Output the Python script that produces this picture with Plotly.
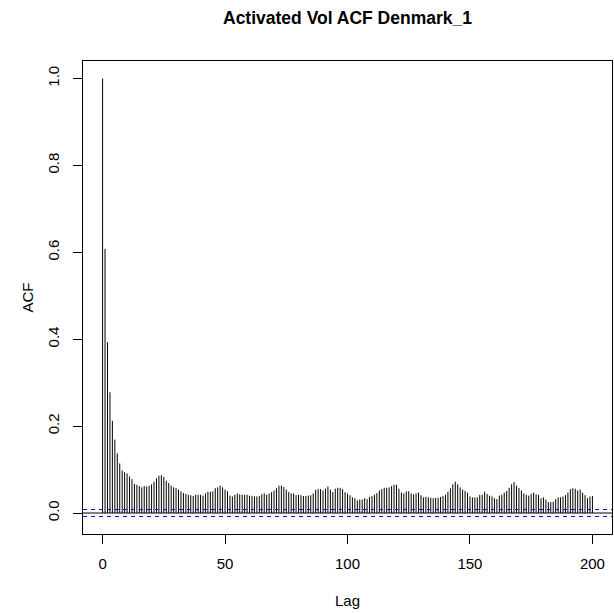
import plotly.graph_objects as go

TITLE = "Activated Vol ACF Denmark_1"
LAGS = list(range(0, 201))
ACF = [
    1.000, 0.608, 0.393, 0.278, 0.212, 0.169, 0.137, 0.114, 0.098, 0.094,
    0.091, 0.084, 0.078, 0.067, 0.065, 0.062, 0.059, 0.062, 0.061, 0.063,
    0.066, 0.072, 0.080, 0.086, 0.087, 0.083, 0.074, 0.069, 0.063, 0.059,
    0.057, 0.054, 0.050, 0.046, 0.044, 0.042, 0.041, 0.039, 0.042, 0.042,
    0.042, 0.040, 0.045, 0.049, 0.049, 0.050, 0.057, 0.059, 0.063, 0.059,
    0.054, 0.050, 0.040, 0.038, 0.042, 0.045, 0.043, 0.042, 0.042, 0.042,
    0.040, 0.039, 0.038, 0.038, 0.039, 0.043, 0.045, 0.042, 0.045, 0.048,
    0.052, 0.057, 0.063, 0.063, 0.060, 0.054, 0.048, 0.045, 0.045, 0.041,
    0.042, 0.041, 0.039, 0.039, 0.040, 0.041, 0.045, 0.053, 0.055, 0.055,
    0.052, 0.056, 0.061, 0.054, 0.048, 0.056, 0.058, 0.058, 0.055, 0.048,
    0.045, 0.041, 0.036, 0.034, 0.029, 0.031, 0.031, 0.034, 0.032, 0.037,
    0.039, 0.042, 0.046, 0.052, 0.055, 0.058, 0.058, 0.059, 0.062, 0.065,
    0.065, 0.056, 0.047, 0.045, 0.050, 0.050, 0.045, 0.043, 0.045, 0.047,
    0.041, 0.036, 0.037, 0.036, 0.035, 0.034, 0.035, 0.035, 0.037, 0.039,
    0.042, 0.049, 0.057, 0.066, 0.072, 0.066, 0.059, 0.054, 0.051, 0.047,
    0.038, 0.036, 0.036, 0.036, 0.042, 0.042, 0.049, 0.044, 0.040, 0.038,
    0.034, 0.032, 0.040, 0.042, 0.047, 0.051, 0.058, 0.066, 0.071, 0.063,
    0.058, 0.052, 0.045, 0.042, 0.040, 0.044, 0.047, 0.043, 0.042, 0.034,
    0.036, 0.031, 0.025, 0.025, 0.026, 0.032, 0.036, 0.036, 0.038, 0.041,
    0.047, 0.055, 0.057, 0.056, 0.052, 0.054, 0.047, 0.041, 0.034, 0.038,
    0.039,
]
CLIM = 0.008
X_TICKS = [0, 50, 100, 150, 200]
Y_TICKS = [0.0, 0.2, 0.4, 0.6, 0.8, 1.0]
Y_TICK_LABELS = ["0.0", "0.2", "0.4", "0.6", "0.8", "1.0"]

xs, ys = [], []
for k, v in zip(LAGS, ACF):
    xs += [k, k, None]
    ys += [0, v, None]

# R-style 4% axis extension
x_lo, x_hi = min(LAGS), max(LAGS)
xpad = 0.04 * (x_hi - x_lo)
y_lo, y_hi = -CLIM, max(ACF)
ypad = 0.04 * (y_hi - y_lo)

FONT = "Liberation Sans, Arial, Helvetica, sans-serif"
FS = 15

fig = go.Figure()
fig.add_trace(go.Scatter(x=xs, y=ys, mode="lines",
                         line=dict(color="black", width=1),
                         hoverinfo="skip", showlegend=False))

fig.add_shape(type="line", xref="paper", x0=0, x1=1, yref="y", y0=0, y1=0,
              line=dict(color="black", width=1))
for c in (CLIM, -CLIM):
    fig.add_shape(type="line", xref="paper", x0=0, x1=1, yref="y", y0=c, y1=c,
                  line=dict(color="#0000FF", width=1, dash="4px,4px"))

fig.update_layout(
    width=614, height=613,
    margin=dict(l=83, r=2, t=61, b=79),
    paper_bgcolor="white", plot_bgcolor="white",
    font=dict(family=FONT, size=FS, color="black"),
    showlegend=False,
    xaxis=dict(range=[x_lo - xpad, x_hi + xpad], tickmode="array",
               tickvals=X_TICKS, ticktext=[str(t) for t in X_TICKS],
               ticks="outside", ticklen=9, tickcolor="black", tickwidth=1,
               showline=True, linecolor="black", linewidth=1, mirror=True,
               showgrid=False, zeroline=False, ticklabelstandoff=7,
               tickfont=dict(size=FS)),
    yaxis=dict(range=[y_lo - ypad, y_hi + ypad], tickmode="array",
               tickvals=Y_TICKS, ticktext=Y_TICK_LABELS,
               ticks="outside", ticklen=9, tickcolor="black", tickwidth=1,
               showline=True, linecolor="black", linewidth=1, mirror=True,
               showgrid=False, zeroline=False, tickangle=-90,
               ticklabelstandoff=8, tickfont=dict(size=FS)),
    annotations=[
        dict(text="<b>" + TITLE + "</b>", xref="paper", yref="paper",
             x=0.5, y=1, xanchor="center", yanchor="middle", yshift=43,
             showarrow=False, font=dict(size=17.5)),
        dict(text="Lag", xref="paper", yref="paper", x=0.5, y=0,
             xanchor="center", yanchor="middle", yshift=-66, showarrow=False,
             font=dict(size=FS)),
        dict(text="ACF", xref="paper", yref="paper", x=0, y=0.5,
             xanchor="center", yanchor="middle", xshift=-56, textangle=-90,
             showarrow=False, font=dict(size=FS)),
    ],
)

fig.write_html("out.html",
               config={"displayModeBar": False},
               post_script="document.body.style.margin='0';document.body.style.overflow='hidden';")
